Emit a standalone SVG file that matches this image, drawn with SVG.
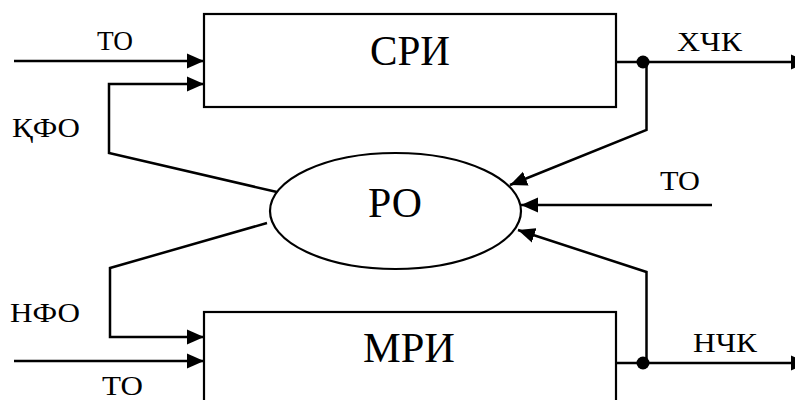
<svg xmlns="http://www.w3.org/2000/svg" width="795" height="400" viewBox="0 0 795 400">
<defs>
<style>
.box{fill:#fff;stroke:#000;stroke-width:2.2}
.ln{fill:none;stroke:#000;stroke-width:2.5}
text{font-family:"Times New Roman", Times, "Liberation Serif", "DejaVu Serif", "Noto Serif", serif;fill:#000}
.big{font-size:42px}
.lbl{font-size:28px}
</style>
<marker id="ah" markerUnits="userSpaceOnUse" markerWidth="18" markerHeight="16" refX="17" refY="8" orient="auto">
<path d="M0,0.5 L17,8 L0,15.5 Z" fill="#000"/>
</marker>
</defs>
<rect width="795" height="400" fill="#fff"/>
<g id="sri">
<rect class="box" x="204" y="14" width="412" height="93"/>
<text class="big" x="370" y="65" textLength="80" lengthAdjust="spacingAndGlyphs">СРИ</text>
</g>
<g id="mri">
<rect class="box" x="204" y="312" width="412" height="100"/>
<text class="big" x="363" y="362" textLength="92" lengthAdjust="spacingAndGlyphs">МРИ</text>
</g>
<g id="ro">
<ellipse cx="395.5" cy="211" rx="125.5" ry="58" fill="#fff" stroke="#000" stroke-width="2.2"/>
<text class="big" x="368" y="217" textLength="54" lengthAdjust="spacingAndGlyphs">РО</text>
</g>
<g id="connectors">
<line class="ln" x1="14" y1="61" x2="204" y2="61" marker-end="url(#ah)"/>
<polyline class="ln" points="277,192 109,153 109,84 204,84" marker-end="url(#ah)"/>
<line class="ln" x1="616" y1="62" x2="808" y2="62" marker-end="url(#ah)"/>
<circle cx="643" cy="62" r="6.5" fill="#000"/>
<polyline class="ln" points="646.5,62 646.5,130 510,185" marker-end="url(#ah)"/>
<line class="ln" x1="712" y1="205" x2="521" y2="205" marker-end="url(#ah)"/>
<polyline class="ln" points="646.5,363 646.5,272 518,230" marker-end="url(#ah)"/>
<line class="ln" x1="616" y1="363" x2="808" y2="363" marker-end="url(#ah)"/>
<circle cx="643" cy="363" r="6.5" fill="#000"/>
<polyline class="ln" points="267,223 110,268 110,337 204,337" marker-end="url(#ah)"/>
<line class="ln" x1="14" y1="361" x2="204" y2="361" marker-end="url(#ah)"/>
</g>
<g id="labels">
<text class="lbl" x="97" y="50" textLength="36" lengthAdjust="spacingAndGlyphs">ТО</text>
<text class="lbl" x="12" y="137" textLength="68" lengthAdjust="spacingAndGlyphs">ҚФО</text>
<text class="lbl" x="677" y="51" textLength="65" lengthAdjust="spacingAndGlyphs">ХЧК</text>
<text class="lbl" x="660" y="190" textLength="40" lengthAdjust="spacingAndGlyphs">ТО</text>
<text class="lbl" x="10" y="322" textLength="70" lengthAdjust="spacingAndGlyphs">НФО</text>
<text class="lbl" x="693" y="352" textLength="64" lengthAdjust="spacingAndGlyphs">НЧК</text>
<text class="lbl" x="102" y="395" textLength="41" lengthAdjust="spacingAndGlyphs">ТО</text>
</g>
</svg>
